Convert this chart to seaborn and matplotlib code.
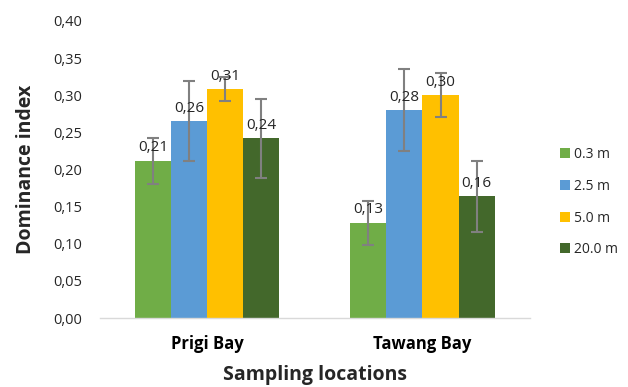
import matplotlib
matplotlib.use("Agg")
import matplotlib.pyplot as plt
import seaborn as sns
import pandas as pd
import numpy as np
from matplotlib.patches import Patch

locations = ["Prigi Bay", "Tawang Bay"]
depths = ["0.3 m", "2.5 m", "5.0 m", "20.0 m"]
values = {
    "0.3 m": [0.212, 0.128],
    "2.5 m": [0.265, 0.280],
    "5.0 m": [0.308, 0.300],
    "20.0 m": [0.242, 0.164],
}
errors = {
    "0.3 m": [0.031, 0.030],
    "2.5 m": [0.054, 0.055],
    "5.0 m": [0.016, 0.030],
    "20.0 m": [0.053, 0.048],
}
labels = {
    "0.3 m": ["0,21", "0,13"],
    "2.5 m": ["0,26", "0,28"],
    "5.0 m": ["0,31", "0,30"],
    "20.0 m": ["0,24", "0,16"],
}
colors = ["#70AD47", "#5B9BD5", "#FFC000", "#43682B"]
yticks = [0.0, 0.05, 0.10, 0.15, 0.20, 0.25, 0.30, 0.35, 0.40]
ytick_labels = ["0,00", "0,05", "0,10", "0,15", "0,20", "0,25", "0,30", "0,35", "0,40"]

rows = []
for d in depths:
    for i, loc in enumerate(locations):
        rows.append({"loc": loc, "depth": d, "val": values[d][i],
                     "err": errors[d][i], "lab": labels[d][i]})
df = pd.DataFrame(rows)

sns.set_style("white")
plt.rcParams["font.family"] = ["Open Sans", "DejaVu Sans"]

fig = plt.figure(figsize=(6.28, 3.87), dpi=100)
ax = fig.add_axes([0.159, 0.178, 0.685, 0.768])

sns.barplot(data=df, x="loc", y="val", hue="depth", order=locations,
            hue_order=depths, palette=colors, width=0.67, errorbar=None,
            saturation=1, ax=ax, legend=False, linewidth=0)

# error bars and labels from bar positions
for j, d in enumerate(depths):
    cont = ax.containers[j]
    for i, bar in enumerate(cont.patches):
        xc = bar.get_x() + bar.get_width() / 2
        h = bar.get_height()
        e = errors[d][i]
        ax.errorbar(xc, h, yerr=e, color="#808080", capsize=4, elinewidth=1.5,
                    capthick=1.5, fmt="none", zorder=3)
        ax.annotate(labels[d][i], (xc, h), xytext=(0, 4), textcoords="offset points",
                    ha="center", va="bottom", fontsize=11, color="#262626", zorder=4)

ax.set_ylim(0, 0.40)
ax.set_xlim(-0.5, 1.5)
ax.set_yticks(yticks)
ax.set_yticklabels(ytick_labels, fontsize=10.5, color="#262626")
ax.tick_params(axis="y", length=0, pad=13)
ax.set_xticks([0, 1])
ax.set_xticklabels(locations, fontsize=12, fontweight="bold", color="#000000")
ax.tick_params(axis="x", which="major", length=0, pad=12)
ax.set_xticks([-0.5, 0.5, 1.5], minor=True)
ax.tick_params(axis="x", which="minor", length=5, color="#d9d9d9", width=1)

for s in ["top", "right", "left"]:
    ax.spines[s].set_visible(False)
ax.spines["bottom"].set_color("#d9d9d9")
ax.spines["bottom"].set_linewidth(1)
ax.grid(False)

ax.set_xlabel("Sampling locations", fontsize=14, fontweight="bold", labelpad=9)
ax.set_ylabel("Dominance index", fontsize=14, fontweight="bold", labelpad=12)

handles = [Patch(facecolor=c, edgecolor="none") for c in colors]
leg = fig.legend(handles, depths, loc="upper left", bbox_to_anchor=(0.872, 0.652),
                 frameon=False, fontsize=10, handlelength=0.7, handleheight=0.7,
                 handletextpad=0.3, labelspacing=1.2)

fig.savefig("out.png", dpi=100)
